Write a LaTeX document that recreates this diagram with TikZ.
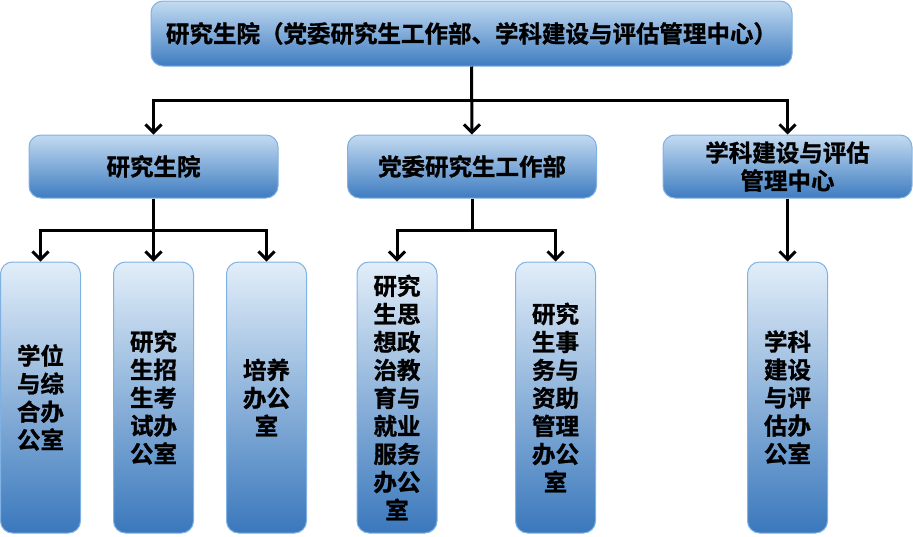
\documentclass[tikz,border=0pt]{standalone}
\usepackage{fontspec}
\setmainfont{Noto Sans CJK SC}[BoldFont={Noto Sans CJK SC Bold}, BoldFeatures={FakeBold=1.2}]
\usepackage{tikz}
\usetikzlibrary{arrows.meta,positioning}

\definecolor{boxline}{HTML}{7FB2E2}
\definecolor{widetop}{HTML}{C3DBF1}
\definecolor{widemid}{HTML}{AECDEA}
\definecolor{widebot}{HTML}{3E7CC0}
\definecolor{talltop}{HTML}{E2EEF9}
\definecolor{tallmid}{HTML}{A0C4E6}
\definecolor{tallbot}{HTML}{3A78BC}

\begin{document}
\begin{tikzpicture}[x=1pt,y=-1pt,
	box/.style={draw=boxline, line width=1pt, rounded corners=12pt, align=center, inner sep=0pt,
		font=\fontsize{23.5}{28}\selectfont\bfseries},
	wide/.style={box, top color=widetop, middle color=widemid, bottom color=widebot,
		minimum width=249pt, minimum height=63pt},
	tall/.style={box, top color=talltop, middle color=tallmid, bottom color=tallbot,
		minimum width=80pt, minimum height=271pt, text width=48pt},
	arr/.style={line width=3pt, -{Straight Barb[length=8pt,width=16pt,line width=3pt]}}]

				\useasboundingbox (0,0) rectangle (913,536);

				% top level
				\node [wide, minimum width=641pt, minimum height=65pt] (top) at (471.5,33.5)
					{研究生院（党委研究生工作部、学科建设与评估管理中心）};

				% second level
				\node [wide] (ygy)  at (153.5,166.5) {研究生院};
				\node [wide] (dw)   at (472,166.5)   {党委研究生工作部};
				\node [wide] (xk)   at (787.5,166.5) {学科建设与评估\\管理中心};

				% third level
				\node [tall] (xw)   at (40.5,397.5)  {学位\\与综\\合办\\公室};
				\node [tall] (zs)   at (153.5,397.5) {研究\\生招\\生考\\试办\\公室};
				\node [tall] (py)   at (266.5,397.5) {培养\\办公\\室};
				\node [tall] (sz)   at (397,397.5)   {研究\\生思\\想政\\治教\\育与\\就业\\服务\\办公\\室};
				\node [tall] (sw)   at (555.5,397.5) {研究\\生事\\务与\\资助\\管理\\办公\\室};
				\node [tall] (pg)   at (787.5,397.5) {学科\\建设\\与评\\估办\\公室};

				\coordinate (bar0) at (471.5,100);
				\coordinate (bar1) at (153.5,230);
				\coordinate (bar2) at (472,230);

				\draw [arr] (top.south) -- (dw.north);
				\draw [arr] (bar0) -| (ygy.north);
				\draw [arr] (bar0) -| (xk.north);

				\draw [line width=3pt] (ygy.south) -- (bar1);
				\draw [arr] (bar1) -| (xw.north);
				\draw [arr] (bar1) -- (zs.north);
				\draw [arr] (bar1) -| (py.north);

				\draw [line width=3pt] (dw.south) -- (bar2);
				\draw [arr] (bar2) -| (sz.north);
				\draw [arr] (bar2) -| (sw.north);

				\draw [arr] (xk.south) -- (pg.north);

\end{tikzpicture}
\end{document}
